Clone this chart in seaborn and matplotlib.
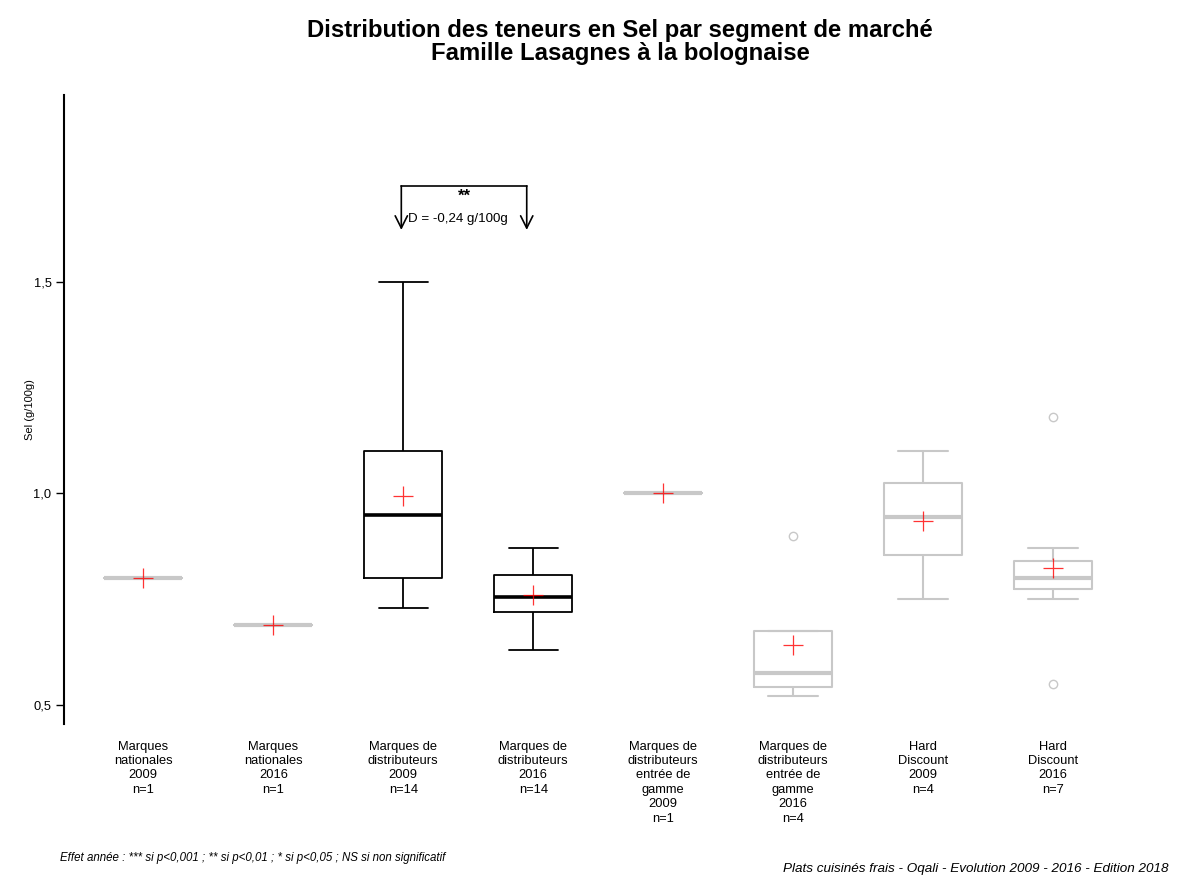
import numpy as np
import pandas as pd
import matplotlib
matplotlib.use("Agg")
import matplotlib.pyplot as plt
import seaborn as sns

# ---- data -------------------------------------------------------------
categories = [
    "Marques\nnationales\n2009\nn=1",
    "Marques\nnationales\n2016\nn=1",
    "Marques de\ndistributeurs\n2009\nn=14",
    "Marques de\ndistributeurs\n2016\nn=14",
    "Marques de\ndistributeurs\nentrée de\ngamme\n2009\nn=1",
    "Marques de\ndistributeurs\nentrée de\ngamme\n2016\nn=4",
    "Hard\nDiscount\n2009\nn=4",
    "Hard\nDiscount\n2016\nn=7",
]
mn_2009 = [0.80]
mn_2016 = [0.69]
mdd_2009 = [0.73, 0.75, 0.78, 0.80, 0.80, 0.85, 0.90, 1.00, 1.05, 1.10, 1.10, 1.22, 1.35, 1.50]
mdd_2016 = [0.63, 0.68, 0.70, 0.72, 0.72, 0.74, 0.75, 0.76, 0.78, 0.80, 0.81, 0.83, 0.85, 0.87]
mddeg_2009 = [1.00]
mddeg_2016 = [0.52, 0.55, 0.60, 0.90]
hd_2009 = [0.75, 0.89, 1.00, 1.10]
hd_2016 = [0.55, 0.75, 0.80, 0.80, 0.81, 0.87, 1.18]
series = [mn_2009, mn_2016, mdd_2009, mdd_2016, mddeg_2009, mddeg_2016, hd_2009, hd_2016]
significant = [False, False, True, True, False, False, False, False]

y_ticks = [0.5, 1.0, 1.5]
y_ticklabels = ["0,5", "1,0", "1,5"]

title = "Distribution des teneurs en Sel par segment de marché\nFamille Lasagnes à la bolognaise"
ylabel = "Sel (g/100g)"
stars = "**"
diff_label = "D = -0,24 g/100g"
foot_left = "Effet année : *** si p<0,001 ; ** si p<0,01 ; * si p<0,05 ; NS si non significatif"
foot_right = "Plats cuisinés frais - Oqali - Evolution 2009 - 2016 - Edition 2018"

rows = []
for cat, vals, sig in zip(categories, series, significant):
    for v in vals:
        rows.append({"cat": cat, "val": v, "sig": sig})
df = pd.DataFrame(rows)

# ---- plot -------------------------------------------------------------
sns.set_style("ticks")
plt.rcParams["font.family"] = ["Liberation Sans", "DejaVu Sans"]
for k in ("text.color", "axes.labelcolor", "xtick.color", "ytick.color"):
    plt.rcParams[k] = "black"

fig = plt.figure(figsize=(11.77, 8.77), dpi=100)
ax = fig.add_axes([0.0544, 0.1745, 0.9066, 0.7172])

common = dict(x="cat", y="val", order=categories, ax=ax, width=0.6, fill=False,
              whis=1.5, showmeans=True,
              meanprops=dict(marker="+", markeredgecolor="#ff0000", markersize=15,
                             markeredgewidth=0.9, alpha=0.8),
              flierprops=dict(marker="o", markersize=6, markerfacecolor="none"))

gray = "#c8c8c8"
sns.boxplot(data=df[~df["sig"]], color=gray, linewidth=1.5,
            medianprops=dict(color=gray, linewidth=3),
            **common)
sns.boxplot(data=df[df["sig"]], color="black", linewidth=1.3,
            medianprops=dict(color="black", linewidth=2.6),
            **common)

# widen whisker caps to match reference
for ln in ax.lines:
    if ln.get_marker() == "o":
        ln.set_markeredgecolor(gray)
    xd = np.asarray(ln.get_xdata(), dtype=float)
    yd = np.asarray(ln.get_ydata(), dtype=float)
    if len(xd) == 2 and yd[0] == yd[1] and abs((xd[1] - xd[0]) - 0.3) < 1e-6:
        c = xd.mean()
        ln.set_xdata([c - 0.19, c + 0.19])

ax.set_xlim(-0.61, 7.6)
ax.set_ylim(0.455, 1.942)
ax.set_yticks(y_ticks)
ax.set_yticklabels(y_ticklabels)
ax.set_xticks(range(len(categories)))
ax.set_xticklabels(categories, linespacing=1.27)
ax.set_xlabel("")
ax.set_ylabel(ylabel, fontsize=8, labelpad=-1)
ax.tick_params(axis="y", length=6, width=1, labelsize=9.3, pad=3)
ax.tick_params(axis="x", length=0, labelsize=9.3, pad=12)
sns.despine(ax=ax, bottom=True)
ax.spines["left"].set_linewidth(1.5)
ax.spines["left"].set_color("black")

# significance bracket between the two "distributeurs" groups
x_a, x_b = 1.985, 2.95
y_top, y_tip = 1.727, 1.623
ax.plot([x_a, x_b], [y_top, y_top], color="black", lw=1.2)
for xx in (x_a, x_b):
    ax.annotate("", xy=(xx, y_tip), xytext=(xx, y_top),
                arrowprops=dict(arrowstyle="->", lw=1.2, color="black",
                                mutation_scale=22, shrinkA=0, shrinkB=0))
ax.text((x_a + x_b) / 2, 1.703, stars, ha="center", va="center",
        fontsize=12, fontweight="bold")
ax.text(x_a + 0.05, 1.649, diff_label, ha="left", va="center", fontsize=9.6)

fig.text(0.527, 0.952, title, ha="center", va="center", fontsize=17.2,
         fontweight="bold", linespacing=1.0)
fig.text(0.051, 0.022, foot_left, ha="left", va="center", fontsize=8.3,
         style="italic")
fig.text(0.665, 0.009, foot_right, ha="left", va="center", fontsize=9.7,
         style="italic")

fig.savefig("out.png", dpi=100)
